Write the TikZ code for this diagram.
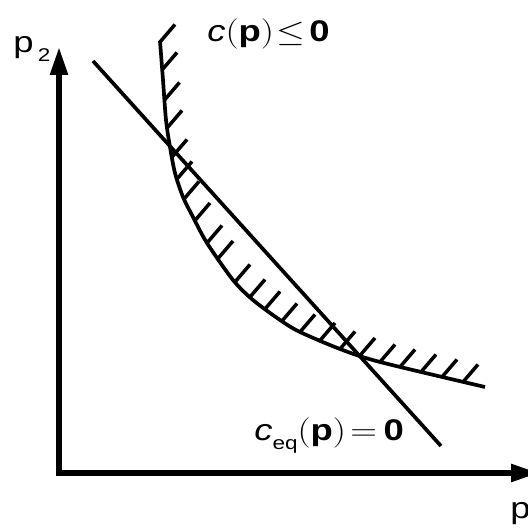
\documentclass[tikz,border=0pt]{standalone}
\usepackage{fontspec}
\setmainfont{Liberation Sans}
\usetikzlibrary{arrows.meta}
\newcommand{\sketchsub}[1]{\raisebox{-5pt}{\fontsize{10.5}{12}\selectfont #1}}
\newcommand{\sketchwide}[1]{\scalebox{1.22}[1]{#1}}
\tikzset{
    sketch/axis/.style={
        line width=3.1pt, line join=miter,
        {Triangle[length=5.6mm,width=3.4mm]}-{Triangle[length=5.6mm,width=3.4mm]}
    },
    sketch/line/.style={line width=2.1pt},
    sketch/hatch/.style={line width=2pt},
    sketch/label/.style={
        font=\fontsize{17}{20}\selectfont, inner sep=0pt, anchor=base west
    }
}
\begin{document}
\begin{tikzpicture}
    \useasboundingbox (0,0) rectangle (10.56,10.56);

    % axes
    \coordinate (origin) at (1.18,1.10);
    \coordinate (p2tip) at (1.18,9.62);
    \coordinate (p1tip) at (10.78,1.10);
    \draw[sketch/axis] (p2tip) -- (origin) -- (p1tip);
    \node[sketch/label] (p2label) at (0.26,9.50)
        {\sketchwide{p\kern2pt\sketchsub{2}}};
    \node[sketch/label] (p1label) at (10.20,0.20)
        {\sketchwide{p\kern2pt\sketchsub{1}}};

    % equality constraint
    \coordinate (eqtop) at (1.86,9.34);
    \coordinate (eqbottom) at (8.82,1.64);
    \draw[sketch/line] (eqtop) -- (eqbottom);

    % inequality constraint and its hatched side
    \draw[sketch/line] plot[smooth] coordinates {
        (3.20,9.74) (3.26,8.96) (3.32,8.16) (3.40,7.62) (3.50,7.10)
        (3.66,6.62) (3.86,6.22) (4.14,5.70) (4.66,4.96) (5.06,4.56)
        (5.60,4.16) (6.00,3.92) (6.80,3.58) (7.60,3.32) (9.70,2.82)};
    \foreach \hx/\hy in {3.20/9.72, 3.24/9.16, 3.29/8.56, 3.34/8.00,
            3.44/7.42, 3.54/6.98, 3.68/6.58, 3.90/6.15, 4.14/5.70,
            4.36/5.39, 4.70/4.92, 5.00/4.62, 5.30/4.38, 5.64/4.14,
            6.00/3.92, 6.40/3.75, 6.80/3.58, 7.20/3.45, 7.60/3.32,
            8.00/3.22, 8.42/3.12, 8.84/3.02, 9.26/2.92}
        \draw[sketch/hatch] (\hx,\hy) -- ++(0.30,0.35);

    \node[sketch/label] (ineqlabel) at (4.14,9.73)
        {\sketchwide{\textit{c}$($\textbf{p}$)$\kern1pt$\le$\kern2pt\textbf{0}}};
    \node[sketch/label] (eqlabel) at (5.08,1.74)
        {\sketchwide{\textit{c}\sketchsub{eq}$($\textbf{p}$)$\kern2pt$=$\kern3pt\textbf{0}}};
\end{tikzpicture}
\end{document}
